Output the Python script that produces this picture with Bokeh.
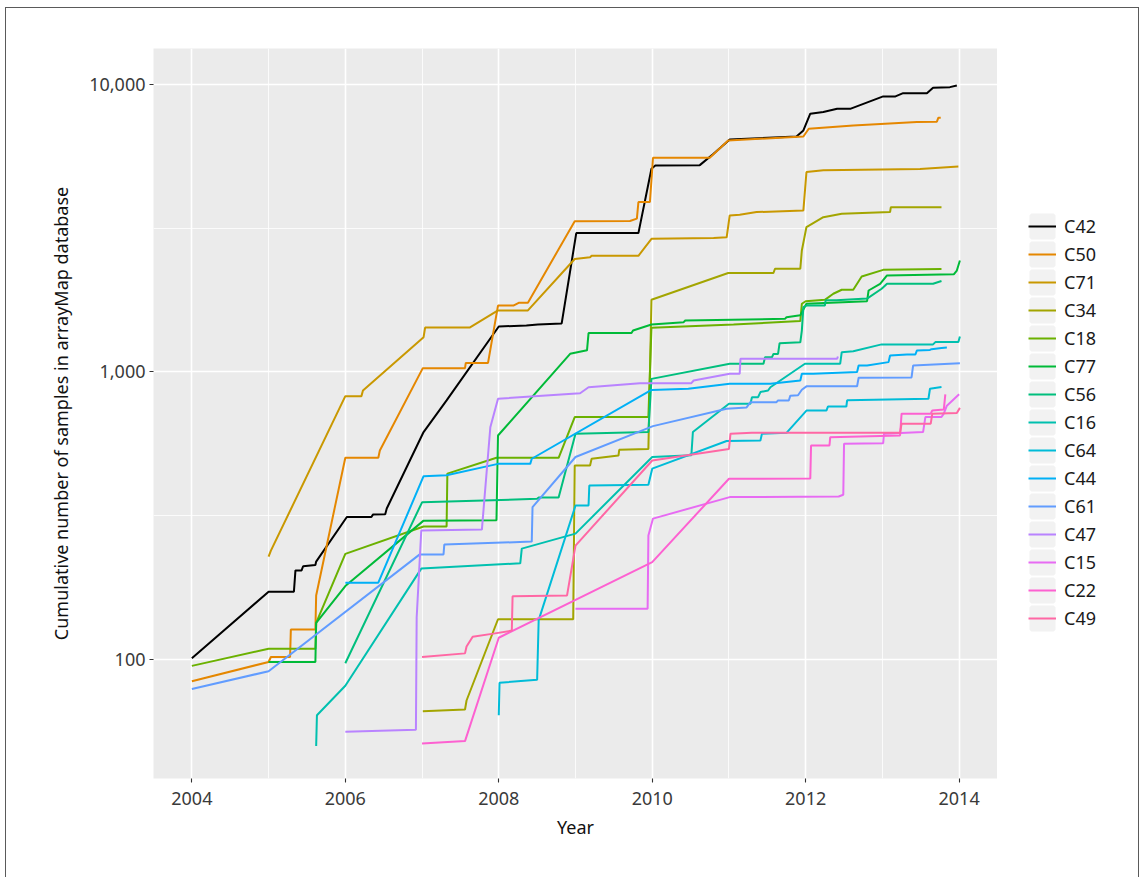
from bokeh.plotting import figure
from bokeh.layouts import row
from bokeh.models import Range1d, FixedTicker, NumeralTickFormatter, Legend, LegendItem
from bokeh.embed import file_html
from bokeh.resources import INLINE

# ---------------- data (decimal year, cumulative samples) ----------------
C42_year = [2004.0, 2005.0, 2005.33, 2005.35, 2005.43, 2005.45, 2005.61, 2005.62, 2006.02, 2006.34, 2006.36,
            2006.52, 2006.54, 2007.02, 2007.32, 2008.0, 2008.36, 2008.51, 2008.82, 2009.01, 2009.82, 2009.99,
            2010.04, 2010.62, 2010.80, 2011.01, 2011.88, 2011.97, 2012.06, 2012.23, 2012.41, 2012.58, 2013.01,
            2013.17, 2013.27, 2013.58, 2013.66, 2013.88, 2013.97]
C42_n = [101, 172, 172, 204, 204, 211, 213, 219, 313, 313, 319, 320, 335, 618, 796, 1439, 1450, 1462, 1475,
         3041, 3041, 5093, 5224, 5240, 5741, 6428, 6590, 6918, 7910, 8015, 8225, 8225, 9084, 9084, 9326, 9326,
         9740, 9785, 9920]

C50_year = [2004.0, 2005.0, 2005.03, 2005.28, 2005.29, 2005.61, 2005.62, 2006.0, 2006.43, 2006.45, 2007.01,
            2007.56, 2007.57, 2007.86, 2007.99, 2008.19, 2008.26, 2008.38, 2008.99, 2009.71, 2009.80, 2009.82,
            2009.97, 2010.01, 2010.75, 2010.99, 2011.97, 2012.04, 2012.62, 2013.45, 2013.71, 2013.73, 2013.76]
C50_n = [84, 98, 102, 102, 127, 127, 167, 503, 503, 533, 1031, 1031, 1075, 1075, 1702, 1702, 1740, 1740, 3346,
         3350, 3413, 3899, 3899, 5559, 5559, 6381, 6590, 7014, 7197, 7396, 7420, 7662, 7662]

C71_year = [2005.0, 2005.03, 2006.0, 2006.21, 2006.23, 2007.02, 2007.04, 2007.62, 2007.99, 2008.38, 2008.99,
            2009.19, 2009.21, 2009.82, 2009.99, 2010.80, 2010.97, 2011.01, 2011.14, 2011.36, 2011.97, 2012.01,
            2012.23, 2013.49, 2013.99]
C71_n = [228, 239, 824, 824, 862, 1321, 1427, 1427, 1637, 1637, 2470, 2506, 2535, 2535, 2904, 2925, 2940, 3502,
         3525, 3597, 3647, 4955, 5026, 5085, 5188]

C34_year = [2007.01, 2007.56, 2007.58, 2007.99, 2008.97, 2008.99, 2009.19, 2009.21, 2009.56, 2009.57, 2009.95,
            2009.99, 2010.99, 2011.58, 2011.60, 2011.93, 2011.95, 2012.01, 2012.23, 2012.47, 2013.10, 2013.11,
            2013.77]
C34_n = [66, 67, 72, 138, 138, 473, 473, 499, 512, 536, 540, 1782, 2209, 2209, 2286, 2286, 2646, 3191, 3453,
         3548, 3600, 3742, 3742]

C18_year = [2004.0, 2005.0, 2005.61, 2005.62, 2006.0, 2007.02, 2007.32, 2007.33, 2007.97, 2008.78, 2008.99,
            2009.95, 2009.99, 2011.06, 2011.93, 2011.95, 2012.0, 2012.25, 2012.36, 2012.47, 2012.62, 2012.73,
            2013.01, 2013.77]
C18_n = [95, 109, 109, 134, 233, 290, 290, 443, 503, 503, 697, 697, 1425, 1462, 1503, 1727, 1762, 1782, 1871,
         1932, 1932, 2148, 2265, 2280]

C77_year = [2005.0, 2005.61, 2005.62, 2006.0, 2007.02, 2007.97, 2007.99, 2008.93, 2009.15, 2009.17, 2009.73,
            2009.75, 2009.99, 2010.41, 2010.43, 2011.73, 2011.75, 2011.93, 2012.01, 2012.80, 2012.82, 2012.97,
            2013.06, 2013.93, 2013.97, 2014.01]
C77_n = [98, 98, 134, 180, 304, 305, 601, 1156, 1189, 1365, 1365, 1393, 1462, 1490, 1510, 1530, 1550, 1574,
         1727, 1762, 1920, 2026, 2167, 2185, 2253, 2443]

C56_year = [2006.0, 2007.0, 2008.50, 2008.52, 2008.78, 2009.0, 2009.95, 2009.99, 2011.01, 2011.45, 2011.47,
            2011.56, 2011.58, 2011.64, 2011.66, 2011.93, 2011.95, 2011.97, 2012.01, 2012.25, 2012.26, 2012.40,
            2012.80, 2012.99, 2013.06, 2013.66, 2013.77]
C56_n = [97, 352, 362, 366, 366, 610, 618, 946, 1068, 1068, 1124, 1124, 1155, 1155, 1259, 1268, 1393, 1680, 1702,
         1702, 1775, 1775, 1800, 1947, 2026, 2026, 2071]

C16_year = [2005.62, 2005.63, 2006.0, 2006.99, 2008.28, 2008.30, 2009.0, 2010.0, 2010.51, 2010.53, 2011.0,
            2011.28, 2011.30, 2011.38, 2011.41, 2011.51, 2011.54, 2011.99, 2012.45, 2012.47, 2012.62, 2012.99,
            2013.66, 2013.69, 2013.99, 2014.01]
C16_n = [50, 64, 81, 207, 216, 243, 274, 506, 513, 618, 775, 775, 817, 817, 851, 862, 885, 1068, 1068, 1172,
         1180, 1247, 1247, 1270, 1270, 1329]

C64_year = [2008.0, 2008.01, 2008.50, 2008.52, 2009.0, 2009.17, 2009.18, 2009.95, 2010.0, 2010.97, 2011.41,
            2011.43, 2011.75, 2012.01, 2012.27, 2012.29, 2012.53, 2012.54, 2013.60, 2013.62, 2013.77]
C64_n = [64, 83, 85, 137, 343, 343, 403, 405, 461, 575, 577, 610, 614, 734, 734, 758, 758, 797, 807, 874, 887]

C44_year = [2006.0, 2006.43, 2007.02, 2007.32, 2007.99, 2008.41, 2008.43, 2009.99, 2010.47, 2011.01, 2011.54,
            2011.93, 2011.95, 2012.10, 2012.67, 2012.69, 2012.80, 2013.08, 2013.10, 2013.32, 2013.43, 2013.45,
            2013.62, 2013.64, 2013.77, 2013.84]
C44_n = [185, 185, 434, 437, 479, 479, 499, 866, 874, 910, 910, 934, 985, 985, 999, 1053, 1053, 1082, 1141, 1150,
         1150, 1188, 1193, 1200, 1211, 1216]

C61_year = [2004.0, 2005.0, 2006.97, 2007.28, 2007.29, 2008.43, 2008.44, 2009.0, 2010.01, 2010.97, 2011.23,
            2011.28, 2011.62, 2011.64, 2011.78, 2011.80, 2011.90, 2011.95, 2012.01, 2012.67, 2012.69, 2013.38,
            2013.40, 2014.01]
C61_n = [79, 91, 232, 232, 251, 257, 339, 506, 648, 745, 753, 785, 785, 796, 796, 827, 830, 867, 891, 891, 955,
         957, 1053, 1073]

C47_year = [2006.0, 2006.92, 2006.93, 2006.99, 2007.78, 2007.89, 2007.99, 2009.06, 2009.17, 2009.84, 2010.51,
            2010.54, 2011.01, 2011.14, 2011.15, 2012.41, 2012.42]
C47_n = [56, 57, 140, 281, 283, 642, 807, 843, 885, 914, 914, 934, 986, 986, 1111, 1111, 1132]

C15_year = [2009.0, 2009.94, 2009.95, 2010.01, 2011.01, 2012.43, 2012.49, 2012.50, 2013.01, 2013.02, 2013.53,
            2013.56, 2013.77, 2013.80, 2013.84, 2014.0]
C15_n = [150, 150, 270, 309, 367, 369, 374, 563, 565, 610, 618, 697, 697, 716, 763, 836]

C22_year = [2007.0, 2007.56, 2008.0, 2010.0, 2011.0, 2012.06, 2012.07, 2012.31, 2012.32, 2013.23, 2013.25,
            2013.63, 2013.65, 2013.80, 2013.82]
C22_n = [51, 52, 119, 218, 425, 426, 555, 555, 593, 601, 716, 716, 734, 740, 835]

C49_year = [2007.0, 2007.56, 2007.58, 2007.66, 2007.93, 2008.17, 2008.18, 2008.89, 2009.0, 2010.0, 2011.0,
            2011.02, 2011.30, 2013.23, 2013.25, 2013.63, 2013.65, 2013.97, 2014.01]
C49_n = [102, 105, 111, 120, 123, 126, 166, 167, 249, 492, 540, 610, 614, 614, 661, 661, 716, 720, 750]

series_names = ["C42", "C50", "C71", "C34", "C18", "C77", "C56", "C16", "C64", "C44", "C61", "C47", "C15",
                "C22", "C49"]
series_years = [C42_year, C50_year, C71_year, C34_year, C18_year, C77_year, C56_year, C16_year, C64_year,
                C44_year, C61_year, C47_year, C15_year, C22_year, C49_year]
series_counts = [C42_n, C50_n, C71_n, C34_n, C18_n, C77_n, C56_n, C16_n, C64_n, C44_n, C61_n, C47_n, C15_n,
                 C22_n, C49_n]
series_colors = ["#000000", "#E58700", "#C99800", "#A3A500", "#6BB100", "#00BA38", "#00BF7D", "#00C0AF",
                 "#00BCD8", "#00B0F6", "#619CFF", "#B983FF", "#E76BF3", "#FD61D1", "#FF67A4"]

x_ticks = [2004, 2006, 2008, 2010, 2012, 2014]
x_minor = [2005, 2007, 2009, 2011, 2013]
y_ticks = [100, 1000, 10000]
y_minor = [10 ** 2.5, 10 ** 3.5]

FONT = "Noto Sans"
NAN = float("nan")
H = 869

# ---------------- main plot ----------------
p = figure(width=991, height=H,
           x_range=Range1d(2003.5, 2014.5), y_range=Range1d(10 ** 1.586, 10 ** 4.125),
           y_axis_type="log", output_backend="svg", toolbar_location=None,
           min_border_left=147, min_border_top=40, min_border_right=0, min_border_bottom=99,
           background_fill_color="#EBEBEB", border_fill_color="white", outline_line_color=None)

p.xgrid.ticker = FixedTicker(ticks=x_ticks, minor_ticks=x_minor)
p.ygrid.ticker = FixedTicker(ticks=y_ticks, minor_ticks=y_minor)
for g in (p.xgrid[0], p.ygrid[0]):
    g.grid_line_color = "white"
    g.grid_line_width = 1.6
    g.minor_grid_line_color = "white"
    g.minor_grid_line_width = 0.8

p.xaxis.ticker = FixedTicker(ticks=x_ticks)
p.yaxis.ticker = FixedTicker(ticks=y_ticks)
p.xaxis.formatter = NumeralTickFormatter(format="0")
p.yaxis.formatter = NumeralTickFormatter(format="0,0")
p.xaxis.axis_label = "Year"
p.yaxis.axis_label = "Cumulative number of samples in arrayMap database"
for ax in (p.xaxis[0], p.yaxis[0]):
    ax.axis_line_color = None
    ax.major_tick_line_color = "#333333"
    ax.major_tick_line_width = 1.1
    ax.major_tick_out = 4
    ax.major_tick_in = 0
    ax.minor_tick_line_color = None
    ax.major_label_text_font = FONT
    ax.major_label_text_font_size = "18px"
    ax.major_label_text_color = "#3a3a3a"
    ax.axis_label_text_font = FONT
    ax.axis_label_text_font_size = "18px"
    ax.axis_label_text_font_style = "normal"
    ax.axis_label_text_color = "#111111"
p.xaxis.major_label_standoff = 9
p.yaxis.major_label_standoff = 4
p.xaxis.axis_label_standoff = 7
p.yaxis.axis_label_standoff = 13

for xs, ys, col in zip(series_years, series_counts, series_colors):
    p.line(xs, ys, line_color=col, line_width=2)

# ---------------- legend panel (same series; its view range shows none of the data) ----------------
lf = figure(width=141, height=H, x_range=Range1d(0, 1), y_range=Range1d(0, 1),
            output_backend="svg", toolbar_location=None, min_border=0,
            x_axis_location=None, y_axis_location=None, outline_line_color=None,
            background_fill_color="white", border_fill_color="white")
lf.grid.visible = False

key_bg = lf.quad(left=[NAN], right=[NAN], top=[NAN], bottom=[NAN], fill_color="#F2F2F2",
                 line_color="#F2F2F2", line_width=3.6)
items = []
for name, xs, ys, col in zip(series_names, series_years, series_counts, series_colors):
    r = lf.line(xs, ys, line_color=col, line_width=2)
    items.append(LegendItem(label=name, renderers=[key_bg, r]))

legend = Legend(items=items, location=(31, 146), glyph_width=28, glyph_height=28, spacing=0,
                label_standoff=8, padding=10, margin=0, border_line_color=None,
                background_fill_alpha=0.0,
                label_text_font=FONT, label_text_font_size="18px", label_text_color="#1a1a1a")
lf.add_layout(legend, "center")

layout = row(p, lf, margin=(7, 0, 0, 5),
             styles={"border-top": "1px solid #5a5a5a", "border-left": "1px solid #5a5a5a",
                     "border-right": "1px solid #5a5a5a"})

open("out.html", "w").write(file_html(layout, INLINE))
